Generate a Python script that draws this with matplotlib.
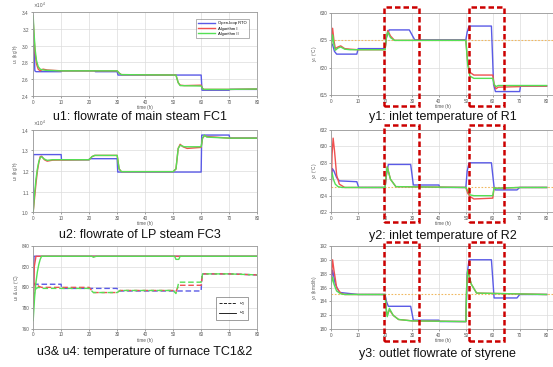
import numpy as np
import matplotlib
matplotlib.use('Agg')
import matplotlib.pyplot as plt
from matplotlib.patches import Rectangle
from matplotlib.ticker import ScalarFormatter
import matplotlib.transforms as mtransforms

plt.rcParams['font.family'] = ['Liberation Sans', 'DejaVu Sans']

# ---- data ----
# u1: flowrate of main steam (kg/h)
t_u1_blue = [0, 0.3, 0.6, 1.0, 10, 10.2, 22, 22.2, 30, 30.3, 60, 60.3, 70, 70.3, 80]
u1_blue = [30000, 30000, 27000, 26900, 26900, 27000, 27000, 26900, 26900, 26500, 26500, 24700, 24700, 24800, 24800]
t_u1_green = [0, 0.3, 0.7, 1.2, 1.8, 2.5, 3.5, 5, 10, 22, 30, 30.8, 31.5, 51, 51.8, 52.5, 60, 60.5, 61, 70, 80]
u1_green = [33500, 31500, 29500, 28200, 27500, 27200, 27100, 27050, 27000, 27000, 27000, 26700, 26550, 26500,
            25600, 25250, 25200, 24900, 24800, 24800, 24850]
t_u1_red = [0, 0.3, 0.7, 1.2, 1.8, 2.5, 3.5, 5, 10, 22, 30, 30.8, 31.5, 51, 51.8, 52.5, 54, 60, 60.5, 61, 70, 80]
u1_red = [33000, 31000, 29000, 27800, 27200, 27000, 27200, 27100, 27000, 27000, 27000, 26700, 26550, 26500,
          25600, 25300, 25250, 25300, 24900, 24800, 24800, 24850]

# u2: flowrate of LP steam (kg/h)
t_u2_blue = [0, 0.1, 10, 10.1, 20, 20.1, 30, 30.2, 60, 60.2, 70, 70.2, 80]
u2_blue = [10000, 12800, 12800, 12550, 12550, 12600, 12600, 11950, 11950, 13750, 13750, 13600, 13600]
t_u2_green = [0, 0.5, 1, 1.5, 2, 2.5, 3, 4, 5, 7, 20, 21, 22, 30, 30.7, 31.5, 50, 51, 51.8, 52.5, 54, 60,
              60.5, 61.2, 62, 70, 80]
u2_green = [10000, 10900, 11600, 12100, 12450, 12650, 12700, 12580, 12520, 12550, 12550, 12700, 12760, 12760,
            12100, 11970, 11970, 12100, 13100, 13250, 13180, 13180, 13600, 13750, 13650, 13600, 13600]
t_u2_red = [0, 0.5, 1, 1.5, 2, 2.5, 3, 4, 5, 7, 20, 21, 22, 30, 30.7, 31.5, 50, 51, 51.8, 52.5, 53.5, 55, 60,
            60.5, 61.2, 62, 70, 80]
u2_red = [10000, 10700, 11400, 12000, 12400, 12700, 12720, 12550, 12480, 12530, 12550, 12700, 12760, 12760,
          12100, 11970, 11970, 12100, 13100, 13300, 13180, 13100, 13150, 13600, 13720, 13680, 13600, 13600]

# u3 (dashed) and u4 (solid): furnace temperatures (degC)
t_u3_blue = [0, 0.3, 10, 10.1, 30, 30.2, 60, 60.3, 70, 80]
u3_blue = [803, 803, 803, 799, 799, 796.5, 796.5, 813, 813, 812]
t_u3_green = [0, 0.5, 1, 2, 3, 20, 21.5, 30, 31, 50, 51, 51.5, 52, 60, 60.5, 70, 80]
u3_green = [790, 795, 799, 800, 799, 799, 795, 795, 797, 797, 794, 799, 805, 805, 813, 813, 812]
t_u3_red = [0, 0.5, 1, 2, 3, 20, 21.5, 30, 31, 50, 51, 52, 60, 60.5, 70, 80]
u3_red = [800, 804, 803, 801, 800, 800, 795, 795, 797, 797, 796, 802, 802, 813, 813, 812]
t_u4_blue = [0, 0.3, 80]
u4_blue = [770, 830, 830]
t_u4_green = [0, 0.5, 1, 1.5, 2, 2.5, 3, 21, 21.5, 22.5, 50.5, 51, 52, 52.5, 80]
u4_green = [768, 790, 805, 815, 822, 827, 830, 830, 829, 830, 830, 827, 827, 830, 830]
t_u4_red = [0, 0.4, 1, 2, 80]
u4_red = [775, 820, 830, 830, 830]

# y1: inlet temperature of R1 (degC)
t_y1_blue = [0, 0.5, 1.2, 2, 9.5, 10, 20, 20.5, 21.5, 29, 30, 31, 50, 50.5, 51.2, 59.5, 60.3, 61, 70, 70.3, 80]
y1_blue = [624.5, 624.2, 623.0, 622.5, 622.5, 623.5, 623.5, 625.5, 626.9, 626.9, 626.0, 625.1, 625.1, 626.5,
           627.6, 627.6, 617, 615.7, 615.7, 616.7, 616.7]
t_y1_red = [0, 0.5, 1, 1.5, 2.5, 3.5, 5, 7, 10, 20, 20.5, 21, 22, 23.5, 50, 50.7, 51.5, 53, 60, 60.5, 61.2,
            62, 70, 70.3, 80]
y1_red = [624, 627.2, 625, 623.5, 623.8, 624.0, 623.5, 623.4, 623.3, 623.3, 625.5, 626.8, 625.8, 625.0, 625.0,
          621, 619.2, 618.7, 618.7, 617, 616.2, 616.5, 616.6, 616.7, 616.7]
t_y1_green = [0, 0.5, 1, 1.5, 2.5, 3.5, 5, 7, 10, 20, 20.5, 21, 22, 23.5, 50, 50.7, 51.5, 53, 60, 60.5, 61.2,
              62, 70, 70.3, 80]
y1_green = [623.8, 626, 624.2, 623.2, 623.6, 623.8, 623.4, 623.3, 623.3, 623.3, 625.8, 626.5, 625.5, 625.0,
            625.0, 620.5, 618.5, 618.1, 618.1, 617, 616.6, 616.8, 616.8, 616.8, 616.8]

# y2: inlet temperature of R2 (degC)
t_y2_blue = [0, 0.4, 1, 2, 3, 9.5, 10.2, 20, 20.5, 21.2, 29.5, 30.5, 40, 40.3, 50, 50.5, 51.2, 59.5, 60.5, 61,
             69, 70, 80]
y2_blue = [625.5, 627.3, 627.0, 626.2, 625.8, 625.7, 625.0, 625.0, 626.5, 627.8, 627.8, 625.3, 625.3, 625.0,
           625.0, 627, 628.0, 628.0, 625, 624.7, 624.7, 625.0, 625.0]
t_y2_red = [0, 0.3, 0.7, 1.2, 2, 3, 5, 20, 20.3, 20.8, 22, 24, 50, 50.7, 51.5, 53, 60, 60.5, 61, 70, 80]
y2_red = [625, 629, 631.0, 629.5, 626.5, 625.4, 625.0, 625.0, 626, 627.5, 626, 625.1, 625.0, 624.3, 623.9,
          623.6, 623.7, 625, 624.9, 625, 625]
t_y2_green = [0, 0.3, 0.8, 1.5, 2.5, 4, 20, 20.3, 20.8, 22, 24, 50, 50.7, 51.5, 53, 60, 60.5, 61, 70, 80]
y2_green = [626.2, 626.8, 626.0, 625.4, 625.1, 625.0, 625.0, 626.3, 627.5, 626.0, 625.1, 625.0, 624.6, 624.1,
            624.0, 624.0, 625, 624.9, 625, 625]

# y3: outlet flowrate of styrene (kmol/h)
t_y3_blue = [0, 0.5, 1.5, 3, 10, 20, 20.5, 21.2, 29.5, 30.5, 40, 40.3, 50, 50.5, 51.2, 59.5, 60.5, 69, 70, 80]
y3_blue = [187, 188.5, 186.5, 185.3, 185.0, 185.0, 184, 183.3, 183.3, 181.3, 181.3, 181.1, 181.1, 188, 190.0,
           190.0, 184.5, 184.5, 185.0, 185.0]
t_y3_red = [0, 0.5, 1, 2, 3.5, 5, 20, 20.4, 20.8, 21.6, 23, 25, 30, 50, 50.3, 50.7, 52, 54, 80]
y3_red = [187, 190.0, 188.5, 186, 185.2, 185.0, 185.0, 183, 182, 182.8, 182, 181.4, 181.2, 181.1, 186, 188.4,
          186.5, 185.2, 185.0]
t_y3_green = [0, 0.5, 1, 2, 3.5, 5, 20, 20.4, 20.8, 21.6, 23, 25, 30, 50, 50.3, 50.7, 52, 54, 80]
y3_green = [186.5, 187.5, 186.5, 185.5, 185.1, 185.0, 185.0, 183, 181.8, 183.0, 182, 181.4, 181.2, 181.1, 186,
            188.5, 186.5, 185.2, 185.0]

setpoints = {'y1': 625, 'y2': 625, 'y3': 185}
box_spans = [(19.7, 32.6), (51.3, 64.3)]
series_names = ['Open-loop RTO', 'Algorithm I', 'Algorithm II']

c_blue = '#5a5ae6'
c_red = '#f05050'
c_green = '#55e055'
c_sp = '#f0b860'
lw = 1.0

fig = plt.figure(figsize=(5.53, 3.67), dpi=100)


def style_axes(ax, xmax, yticks):
    ax.set_xlim(0, xmax)
    ax.set_xticks(range(0, 81, 10))
    ax.set_yticks(yticks)
    ax.set_ylim(yticks[0], yticks[-1])
    ax.tick_params(labelsize=3.3, length=1.5, width=0.4, pad=1, colors='#555555')
    ax.grid(True, color='#dcdcdc', linewidth=0.5)
    for s in ax.spines.values():
        s.set_color('#9a9a9a')
        s.set_linewidth(0.6)
    ax.set_xlabel('time (h)', fontsize=3.3, labelpad=0.3, color='#555555')


def sci_axis(ax):
    f = ScalarFormatter(useMathText=True)
    f.set_powerlimits((0, 0))
    ax.yaxis.set_major_formatter(f)
    ax.yaxis.get_offset_text().set_fontsize(3.3)
    ax.yaxis.get_offset_text().set_color('#555555')


# ---- left column ----
ax1 = fig.add_axes([0.060, 0.738, 0.405, 0.230])
ax1.plot(t_u1_blue, u1_blue, color=c_blue, lw=lw, label=series_names[0])
ax1.plot(t_u1_red, u1_red, color=c_red, lw=lw, label=series_names[1])
ax1.plot(t_u1_green, u1_green, color=c_green, lw=lw, label=series_names[2])
style_axes(ax1, 80, [24000, 26000, 28000, 30000, 32000, 34000])
sci_axis(ax1)
ax1.set_ylabel('$u_1$ (kg/h)', fontsize=3.3, labelpad=1, color='#555555')
leg = ax1.legend(loc='upper right', fontsize=3.0, handlelength=4, frameon=True, fancybox=False,
                 borderpad=0.6, labelspacing=0.3, bbox_to_anchor=(0.975, 0.94))
leg.get_frame().set_edgecolor('#777777')
leg.get_frame().set_linewidth(0.5)

ax2 = fig.add_axes([0.060, 0.422, 0.405, 0.224])
ax2.plot(t_u2_blue, u2_blue, color=c_blue, lw=lw)
ax2.plot(t_u2_red, u2_red, color=c_red, lw=lw)
ax2.plot(t_u2_green, u2_green, color=c_green, lw=lw)
style_axes(ax2, 80, [10000, 11000, 12000, 13000, 14000])
sci_axis(ax2)
ax2.set_ylabel('$u_2$ (kg/h)', fontsize=3.3, labelpad=1, color='#555555')

ax3 = fig.add_axes([0.060, 0.104, 0.405, 0.226])
ax3.plot(t_u3_blue, u3_blue, color=c_blue, lw=lw, ls='--', dashes=(4, 2))
ax3.plot(t_u3_red, u3_red, color=c_red, lw=lw, ls='--', dashes=(4, 2))
ax3.plot(t_u3_green, u3_green, color=c_green, lw=lw, ls='--', dashes=(4, 2))
ax3.plot(t_u4_blue, u4_blue, color=c_blue, lw=lw)
ax3.plot(t_u4_red, u4_red, color=c_red, lw=lw)
ax3.plot(t_u4_green, u4_green, color=c_green, lw=lw)
style_axes(ax3, 80, [760, 780, 800, 820, 840])
ax3.set_ylabel('$u_3$ & $u_4$ (°C)', fontsize=3.3, labelpad=1, color='#555555')
h1, = ax3.plot([], [], color='k', lw=0.6, ls='--', label='$u_3$')
h2, = ax3.plot([], [], color='k', lw=0.6, label='$u_4$')
leg3 = ax3.legend(handles=[h1, h2], loc='lower right', fontsize=3.0, handlelength=4, fancybox=False,
                  borderpad=0.7, labelspacing=0.5, bbox_to_anchor=(0.97, 0.08))
leg3.get_frame().set_edgecolor('#555555')
leg3.get_frame().set_linewidth(0.5)

# ---- right column ----
right = [
    ([0.599, 0.740, 0.405, 0.225], t_y1_blue, y1_blue, t_y1_red, y1_red, t_y1_green, y1_green,
     [615, 620, 625, 630], '$y_1$ (°C)', setpoints['y1'], (1.07, -0.13)),
    ([0.599, 0.422, 0.405, 0.224], t_y2_blue, y2_blue, t_y2_red, y2_red, t_y2_green, y2_green,
     [622, 624, 626, 628, 630, 632], '$y_2$ (°C)', setpoints['y2'], (1.06, -0.12)),
    ([0.599, 0.103, 0.405, 0.227], t_y3_blue, y3_blue, t_y3_red, y3_red, t_y3_green, y3_green,
     [180, 182, 184, 186, 188, 190, 192], '$y_3$ (kmol/h)', setpoints['y3'], (1.05, -0.145)),
]
for pos, tb, vb, tr, vr, tg, vg, yt, yl, sp, (btop, bbot) in right:
    ax = fig.add_axes(pos)
    ax.axhline(sp, color=c_sp, lw=0.8, ls=(0, (1.5, 1.5)))
    ax.plot(tb, vb, color=c_blue, lw=lw)
    ax.plot(tr, vr, color=c_red, lw=lw)
    ax.plot(tg, vg, color=c_green, lw=lw)
    style_axes(ax, 83.2, yt)
    ax.set_ylabel(yl, fontsize=3.3, labelpad=1, color='#555555')
    trans = mtransforms.blended_transform_factory(ax.transData, ax.transAxes)
    for x0, x1 in box_spans:
        ax.add_patch(Rectangle((x0, bbot), x1 - x0, btop - bbot, transform=trans, fill=False,
                               edgecolor='#cc0000', lw=1.8, ls=(0, (2.2, 1.2)), clip_on=False, zorder=5))

# ---- captions ----
cap = dict(fontsize=9.0, ha='center', va='center', color='#111111')
fig.text(140 / 553, 1 - 117 / 367, 'u1: flowrate of main steam FC1', **cap)
fig.text(140 / 553, 1 - 235 / 367, 'u2: flowrate of LP steam FC3', **cap)
fig.text(145 / 553, 1 - 352 / 367, 'u3& u4: temperature of furnace TC1&2', **cap)
fig.text(443 / 553, 1 - 117 / 367, 'y1: inlet temperature of R1', **cap)
fig.text(443 / 553, 1 - 236 / 367, 'y2: inlet temperature of R2', **cap)
fig.text(437 / 553, 1 - 354 / 367, 'y3: outlet flowrate of styrene', **cap)

fig.savefig('out.png', dpi=100)
